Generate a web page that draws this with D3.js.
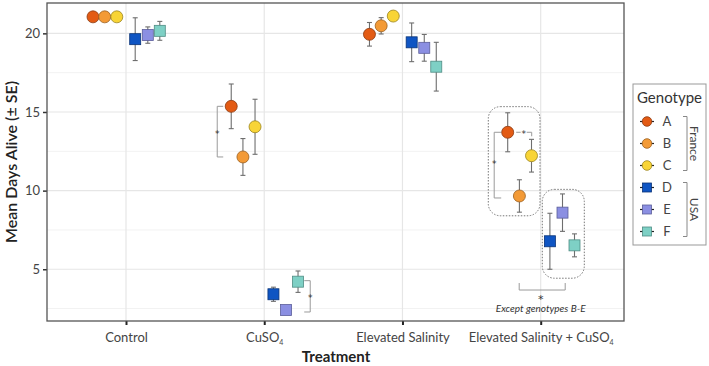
<!DOCTYPE html>
<html>
<head>
<meta charset="utf-8">
<script src="https://cdn.jsdelivr.net/npm/d3@7"></script>
<style>
  body { margin: 0; background: #fff; }
  svg { font-family: Lato, "Noto Sans", sans-serif; }
</style>
</head>
<body>
<svg id="main"></svg>
<script>
const width = 709;
const height = 366;
const position = { left: 47, top: 3, right: 85, bottom: 45 };
const innerWidth = width - position.left - position.right;
const innerHeight = height - position.top - position.bottom;

// data
const treatments = ['Control', 'CuSO4', 'Elevated Salinity', 'Elevated Salinity + CuSO4'];
const genotypes = ['A', 'B', 'C', 'D', 'E', 'F'];
const origins = ['France', 'France', 'France', 'USA', 'USA', 'USA'];
const meanA = [21.05, 15.36, 19.94, 13.71];
const meanB = [21.05, 12.14, 20.48, 9.66];
const meanC = [21.05, 14.06, 21.1, 12.22];
const meanD = [19.63, 3.41, 19.43, 6.78];
const meanE = [19.89, 2.41, 19.08, 8.6];
const meanF = [20.16, 4.21, 17.88, 6.52];
const seA = [0, 1.42, 0.75, 1.24];
const seB = [0, 1.17, 0.52, 1.03];
const seC = [0, 1.75, 0, 1.04];
const seD = [1.36, 0.45, 1.23, 1.78];
const seE = [0.52, 0, 0.85, 1.19];
const seF = [0.6, 0.68, 1.55, 0.73];
const yTicks = [5, 10, 15, 20];
const yMinorTicks = [2.5, 7.5, 12.5, 17.5];

const means = [meanA, meanB, meanC, meanD, meanE, meanF];
const ses = [seA, seB, seC, seD, seE, seF];
const fills = ['#e35b14', '#f39a36', '#f8d436', '#0f55c3', '#8b8fe2', '#7ed0c5'];
const strokes = ['#8a3a12', '#9a6020', '#9a8420', '#0a3478', '#5b5e9a', '#4f8c84'];
const dodge = [-33, -21.3, -9.2, 9.2, 21.8, 33.8];

const rows = [];
genotypes.forEach((g, gi) => {
    treatments.forEach((t, ti) => {
        rows.push({ g, gi, t, mean: means[gi][ti], se: ses[gi][ti] });
    });
});

const mainSvg = d3.select('#main').attr('width', width).attr('height', height);
const g = mainSvg.append('g').attr('transform', `translate(${position.left}, ${position.top})`);

const xScale = d3.scalePoint().domain(treatments).range([79, 493.7]);
const yScale = d3.scaleLinear().domain([1.71, 21.93]).range([innerHeight, 0]);

// grid
g.selectAll('.minor').data(yMinorTicks).join('line')
    .attr('x1', 0).attr('x2', innerWidth)
    .attr('y1', d => yScale(d)).attr('y2', d => yScale(d))
    .attr('stroke', '#f2f2f2').attr('stroke-width', 1);
g.selectAll('.major').data(yTicks).join('line')
    .attr('x1', 0).attr('x2', innerWidth)
    .attr('y1', d => yScale(d)).attr('y2', d => yScale(d))
    .attr('stroke', '#e6e6e6').attr('stroke-width', 1.2);
g.selectAll('.vgrid').data(treatments).join('line')
    .attr('x1', d => xScale(d)).attr('x2', d => xScale(d))
    .attr('y1', 0).attr('y2', innerHeight)
    .attr('stroke', '#e6e6e6').attr('stroke-width', 1.2);

// axes
const yAxis = g.append('g').call(d3.axisLeft(yScale).tickValues(yTicks).tickSize(4).tickPadding(3));
yAxis.select('.domain').remove();
yAxis.selectAll('line').attr('stroke', '#333').attr('stroke-width', 1.5);
yAxis.selectAll('text').attr('font-size', 13).attr('fill', '#444').attr('font-family', 'Lato, sans-serif');

const xAxis = g.append('g').attr('transform', `translate(0,${innerHeight})`)
    .call(d3.axisBottom(xScale).tickSize(4).tickPadding(6));
xAxis.select('.domain').remove();
xAxis.selectAll('text').remove();
xAxis.selectAll('line').attr('stroke', '#222').attr('stroke-width', 2);
xAxis.selectAll('.tick').each(function (d) {
    const t = d3.select(this).append('text').attr('y', 21).attr('fill', '#444')
        .attr('font-size', 13).attr('text-anchor', 'middle').attr('font-family', 'Lato, sans-serif');
    if (d.indexOf('CuSO4') >= 0) {
        t.append('tspan').text(d.replace('CuSO4', 'CuSO'));
        t.append('tspan').attr('font-size', 7).attr('dy', 3).text('4');
    } else {
        t.text(d);
    }
});

// axis titles
mainSvg.append('text').attr('transform', `translate(17,${position.top + innerHeight / 2}) rotate(-90)`)
    .attr('text-anchor', 'middle').attr('font-size', 16).attr('font-weight', 600).attr('fill', '#222')
    .text('Mean Days Alive (± SE)');
mainSvg.append('text').attr('x', 336).attr('y', 362)
    .attr('text-anchor', 'middle').attr('font-size', 15).attr('font-weight', 700).attr('fill', '#222')
    .text('Treatment');

const px = d => xScale(d.t) + dodge[d.gi];

// annotations (behind points)
const ann = g.append('g').attr('fill', 'none');
const grey = '#9a9a9a';
function star(x, y, size) {
    g.append('text').attr('x', x).attr('y', y + size * 0.58).attr('text-anchor', 'middle')
        .attr('font-family', '"DejaVu Sans", sans-serif')
        .attr('font-size', size).attr('fill', '#333').text('*');
}
function bracketV(x, y1, y2, dir, len, starY) {
    ann.append('path')
        .attr('d', `M${x + dir * len},${y1}H${x}V${y2}H${x + dir * len}`)
        .attr('stroke', grey).attr('stroke-width', 1);
    star(x, starY, 9);
}
// CuSO4 A vs B
bracketV(xScale('CuSO4') - 47, yScale(meanA[1]), yScale(meanB[1]), 1, 6,
    (yScale(meanA[1]) + yScale(meanB[1])) / 2);
// CuSO4 E vs F
bracketV(xScale('CuSO4') + 46, yScale(meanF[1]) - 1, yScale(meanE[1]) + 2, -1, 6,
    (yScale(meanF[1]) + yScale(meanE[1])) / 2);

const c4 = xScale('Elevated Salinity + CuSO4');
// ES+CuSO4 A vs B
bracketV(c4 - 46.5, yScale(meanA[3]), yScale(meanB[3]) + 2, 1, 7,
    (yScale(meanA[3]) + yScale(meanB[3])) / 2 - 2);
// A vs C
ann.append('path')
    .attr('d', `M${c4 - 24.5},${yScale(meanA[3])}H${c4 - 20}M${c4 - 14},${yScale(meanA[3])}H${c4 - 9}V${yScale(meanA[3]) + 4}`)
    .attr('stroke', grey).attr('stroke-width', 1);
star(c4 - 17, yScale(meanA[3]), 9);

// dotted groups
ann.append('rect').attr('x', c4 - 52.4).attr('y', yScale(15.34)).attr('width', 51.7)
    .attr('height', yScale(8.4) - yScale(15.34)).attr('rx', 12)
    .attr('stroke', '#777').attr('stroke-width', 1).attr('stroke-dasharray', '1.5,1.5');
ann.append('rect').attr('x', c4 + 1.6).attr('y', yScale(10.08)).attr('width', 42)
    .attr('height', yScale(4.43) - yScale(10.08)).attr('rx', 12)
    .attr('stroke', '#777').attr('stroke-width', 1).attr('stroke-dasharray', '1.5,1.5');

// bottom bracket
const by = yScale(3.68);
ann.append('path').attr('d', `M${c4 - 21.5},${by - 7}V${by}H${c4 + 24.5}V${by - 7}`)
    .attr('stroke', grey).attr('stroke-width', 1);
star(c4, by + 7, 11);
g.append('text').attr('x', c4).attr('y', by + 22).attr('text-anchor', 'middle')
    .attr('font-size', 10).attr('font-style', 'italic').attr('fill', '#333')
    .text('Except genotypes B-E');

// error bars
const eb = g.append('g').selectAll('g').data(rows.filter(d => d.se > 0)).join('g')
    .attr('stroke', '#6e6e6e').attr('stroke-width', 1.1);
eb.append('line').attr('x1', px).attr('x2', px)
    .attr('y1', d => yScale(d.mean + d.se)).attr('y2', d => yScale(d.mean - d.se));
eb.append('line').attr('x1', d => px(d) - 2.5).attr('x2', d => px(d) + 2.5)
    .attr('y1', d => yScale(d.mean + d.se)).attr('y2', d => yScale(d.mean + d.se));
eb.append('line').attr('x1', d => px(d) - 2.5).attr('x2', d => px(d) + 2.5)
    .attr('y1', d => yScale(d.mean - d.se)).attr('y2', d => yScale(d.mean - d.se));

// points
g.selectAll('circle.pt').data(rows.filter(d => d.gi < 3)).join('circle')
    .attr('class', 'pt')
    .attr('cx', px).attr('cy', d => yScale(d.mean)).attr('r', 6)
    .attr('fill', d => fills[d.gi]).attr('stroke', d => strokes[d.gi]).attr('stroke-width', 0.8);
g.selectAll('rect.pt').data(rows.filter(d => d.gi >= 3)).join('rect')
    .attr('class', 'pt')
    .attr('x', d => px(d) - 5.5).attr('y', d => yScale(d.mean) - 5.5)
    .attr('width', 11).attr('height', 11)
    .attr('fill', d => fills[d.gi]).attr('stroke', d => strokes[d.gi]).attr('stroke-width', 0.8);

// panel border
g.append('rect').attr('width', innerWidth).attr('height', innerHeight)
    .attr('fill', 'none').attr('stroke', '#555').attr('stroke-width', 1.3);

// legend
const lg = mainSvg.append('g').attr('transform', 'translate(633,84)');
lg.append('rect').attr('width', 73).attr('height', 161).attr('fill', '#fff')
    .attr('stroke', '#999').attr('stroke-width', 1);
lg.append('text').attr('x', 4).attr('y', 19).attr('font-size', 15).attr('fill', '#333').text('Genotype');
const ly = i => 37.5 + i * 22;
const items = lg.selectAll('.item').data(genotypes).join('g')
    .attr('transform', (d, i) => `translate(0,${ly(i)})`);
items.append('line').attr('x1', 7).attr('x2', 21).attr('stroke', '#222').attr('stroke-width', 1.2);
items.filter((d, i) => i < 3).append('circle').attr('cx', 14).attr('r', 4.8)
    .attr('fill', (d, i) => fills[i]).attr('stroke', (d, i) => strokes[i]).attr('stroke-width', 0.8);
items.filter((d, i) => i >= 3).append('rect').attr('x', 9.5).attr('y', -4.5).attr('width', 9).attr('height', 9)
    .attr('fill', (d, i) => fills[i + 3]).attr('stroke', (d, i) => strokes[i + 3]).attr('stroke-width', 0.8);
items.append('text').attr('x', 34).attr('y', 4.5).attr('text-anchor', 'middle')
    .attr('font-size', 13).attr('fill', '#444').text(d => d);

const groups = ['France', 'USA'];
groups.forEach(o => {
    const idx = origins.map((v, i) => v === o ? i : -1).filter(i => i >= 0);
    const y1 = ly(idx[0]) - 5;
    const y2 = ly(idx[idx.length - 1]) + 5;
    lg.append('path').attr('d', `M50,${y1}H54V${y2}H50`).attr('fill', 'none')
        .attr('stroke', '#888').attr('stroke-width', 1);
    lg.append('text').attr('transform', `translate(57,${(y1 + y2) / 2}) rotate(90)`)
        .attr('text-anchor', 'middle').attr('font-size', 12).attr('fill', '#444').text(o);
});
</script>
</body>
</html>
